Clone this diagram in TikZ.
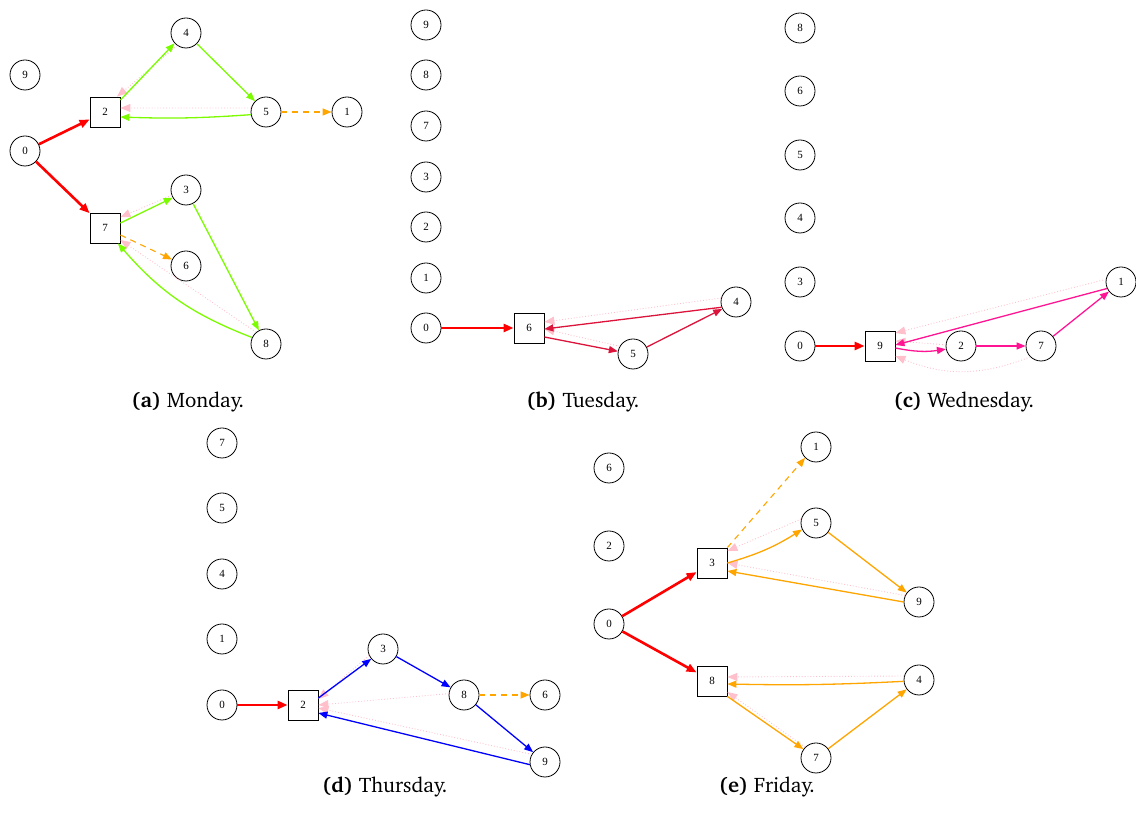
\documentclass[tikz,border=0pt]{standalone}
\usepackage[T1]{fontenc}
\usepackage{fontspec}
\setmainfont{Liberation Serif}
\usetikzlibrary{arrows.meta}
\newcommand\capfont{\fontencoding{T1}\fontfamily{bch}\selectfont}
\definecolor{lawn}{HTML}{7CFC00}
\definecolor{orng}{HTML}{FFA500}
\definecolor{crim}{HTML}{DC143C}
\definecolor{dpink}{HTML}{FF1493}
\definecolor{pnk}{HTML}{FFC0CB}
\definecolor{gblue}{HTML}{0000FF}
\tikzset{
  vtx/.style={circle,draw,line width=0.8pt,minimum size=30pt,inner sep=0pt,
    font=\fontsize{11}{12}\selectfont},
  sq/.style={rectangle,draw,line width=0.8pt,minimum size=30pt,inner sep=0pt,
    font=\fontsize{11}{12}\selectfont},
  tipped/.style={-{Triangle[length=9pt,width=7pt]}},
  heavy/.style={-{Triangle[length=10pt,width=8pt]},line width=2.6pt,red},
  flow/.style={tipped,line width=1.3pt},
  spare/.style={tipped,orng,line width=1.1pt,dash pattern=on 6pt off 5pt},
  aux/.style={-{Triangle[length=10pt,width=8pt]},pnk,line width=0.9pt,dotted},
  caption/.style={font=\capfont\fontsize{21}{24}\selectfont,anchor=base},
}
\begin{document}
\begin{tikzpicture}[x=1pt,y=1pt]
\useasboundingbox (0,0) rectangle (1136,827);

% ---------- Monday
\node[vtx] (a9) at (25,752) {9};
\node[vtx] (a4) at (186,794) {4};
\node[sq]  (a2) at (105,715) {2};
\node[vtx] (a5) at (266,715) {5};
\node[vtx] (a1) at (347,715) {1};
\node[vtx] (a0) at (25,676) {0};
\node[vtx] (a3) at (186,637) {3};
\node[sq]  (a7) at (105,599) {7};
\node[vtx] (a6) at (186,561) {6};
\node[vtx] (a8) at (266,483) {8};
\draw[aux] (a4.235) -- (a2.52);
\draw[aux] (a5.165) -- ([yshift=4pt]a2.east);
\draw[aux] (a3.200) -- (a7.35);
\draw[aux] (a8.130) -- ([yshift=-12pt]a7.east);
\draw[heavy] (a0) -- (a2);
\draw[heavy] (a0) -- (a7);
\draw[flow,lawn] ([yshift=12pt]a2.east) -- (a4.222);
\draw[flow,lawn] (a4) -- (a5);
\draw[flow,lawn] (a5.190) to[bend left=3] ([yshift=-5pt]a2.east);
\draw[flow,lawn] ([yshift=5pt]a7.east) -- (a3.210);
\draw[flow,lawn] (a3) -- (a8);
\draw[flow,lawn] (a8.155) to[bend left=14] (a7.-50);
\draw[spare] (a5) -- (a1);
\draw[spare] ([yshift=-7pt]a7.east) -- (a6.155);

% ---------- Tuesday
\node[vtx] (b9) at (426,802) {9};
\node[vtx] (b8) at (426,752) {8};
\node[vtx] (b7) at (426,701) {7};
\node[vtx] (b3) at (426,650) {3};
\node[vtx] (b2) at (426,600) {2};
\node[vtx] (b1) at (426,549) {1};
\node[vtx] (b0) at (426,499) {0};
\node[sq]  (b6) at (529,499) {6};
\node[vtx] (b5) at (633,473) {5};
\node[vtx] (b4) at (736,525) {4};
\draw[aux] (b4.165) -- ([yshift=6pt]b6.east);
\draw[aux] (b5.150) -- ([yshift=-1pt]b6.east);
\draw[heavy] (b0) -- (b6);
\draw[flow,crim] ([yshift=-9pt]b6.east) -- (b5.170);
\draw[flow,crim] (b5) -- (b4);
\draw[flow,crim] (b4.200) -- ([yshift=-1pt]b6.east);

% ---------- Wednesday
\node[vtx] (c8) at (800,799) {8};
\node[vtx] (c6) at (800,736) {6};
\node[vtx] (c5) at (800,672) {5};
\node[vtx] (c4) at (800,609) {4};
\node[vtx] (c3) at (800,545) {3};
\node[vtx] (c0) at (800,481) {0};
\node[sq]  (c9) at (880,481) {9};
\node[vtx] (c2) at (961,481) {2};
\node[vtx] (c7) at (1041,481) {7};
\node[vtx] (c1) at (1121,545) {1};
\draw[aux] (c1.170) -- ([yshift=13pt]c9.east);
\draw[aux] (c2) -- ([yshift=5pt]c9.east);
\draw[aux] (c7.225) to[bend left=22] ([yshift=-10pt]c9.east);
\draw[heavy] (c0) -- (c9);
\draw[flow,dpink] ([yshift=-2pt]c9.east) to[bend right=10] (c2);
\draw[flow,dpink] (c2) -- (c7);
\draw[flow,dpink] (c7) -- (c1);
\draw[flow,dpink] (c1.205) -- ([yshift=1pt]c9.east);

% ---------- Thursday
\node[vtx] (d7) at (222,384) {7};
\node[vtx] (d5) at (222,319) {5};
\node[vtx] (d4) at (222,253) {4};
\node[vtx] (d1) at (222,188) {1};
\node[vtx] (d0) at (222,122) {0};
\node[sq]  (d2) at (303,122) {2};
\node[vtx] (d3) at (383,178) {3};
\node[vtx] (d8) at (464,132) {8};
\node[vtx] (d6) at (545,132) {6};
\node[vtx] (d9) at (545,65) {9};
\draw[aux] (d3.205) -- ([yshift=6pt]d2.east);
\draw[aux] (d8.175) -- (d2.east);
\draw[aux] (d9.150) -- ([yshift=-3pt]d2.east);
\draw[heavy] (d0) -- (d2);
\draw[flow,gblue] ([yshift=7pt]d2.east) -- (d3.220);
\draw[flow,gblue] (d3) -- (d8);
\draw[flow,gblue] (d8) -- (d9);
\draw[flow,gblue] (d9.190) -- ([yshift=-8pt]d2.east);
\draw[spare] (d8) -- (d6);

% ---------- Friday
\node[vtx] (e6) at (609,359) {6};
\node[vtx] (e2) at (609,281) {2};
\node[vtx] (e0) at (609,203) {0};
\node[sq]  (e3) at (712,264) {3};
\node[sq]  (e8) at (712,146) {8};
\node[vtx] (e1) at (816,380) {1};
\node[vtx] (e5) at (816,304) {5};
\node[vtx] (e9) at (919,225) {9};
\node[vtx] (e4) at (919,147) {4};
\node[vtx] (e7) at (816,69) {7};
\draw[aux] (e5.165) -- ([yshift=12pt]e3.east);
\draw[aux] (e9.155) -- (e3.east);
\draw[aux] (e4.165) -- ([yshift=4pt]e8.east);
\draw[aux] (e7.135) -- ([yshift=-11pt]e8.east);
\draw[heavy] (e0) -- (e3);
\draw[heavy] (e0) -- (e8);
\draw[spare] (e3.north east) -- (e1.225);
\draw[flow,orng] (e3.east) to[bend right=8] (e5.205);
\draw[flow,orng] (e5) -- (e9);
\draw[flow,orng] (e9.180) -- ([yshift=-8pt]e3.east);
\draw[flow,orng] (e4.185) to[bend left=2] ([yshift=-3pt]e8.east);
\draw[flow,orng] (e8.south east) -- (e7.145);
\draw[flow,orng] (e7) -- (e4);

% ---------- captions
\node[caption] (capa) at (188,419) {\textbf{(a)} Monday.};
\node[caption] (capb) at (583,419) {\textbf{(b)} Tuesday.};
\node[caption] (capc) at (964,419) {\textbf{(c)} Wednesday.};
\node[caption] (capd) at (385,34) {\textbf{(d)} Thursday.};
\node[caption] (cape) at (767,34) {\textbf{(e)} Friday.};
\end{tikzpicture}
\end{document}
